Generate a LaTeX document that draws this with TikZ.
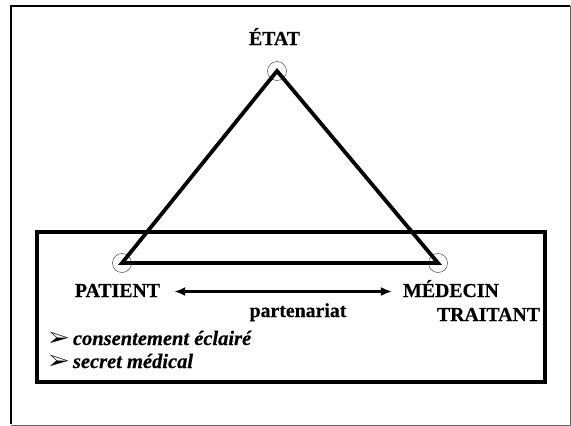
\documentclass[tikz,border=0pt]{standalone}
\usepackage{fontspec}
\setmainfont{Liberation Serif}[BoldFeatures={FakeBold=0.5}, BoldItalicFeatures={FakeBold=0.5}]
\usepackage{pifont}
\usetikzlibrary{arrows.meta}
\begin{document}
\begin{tikzpicture}[x=1pt,y=-1pt,
  label/.style={font=\fontsize{19.8}{22}\selectfont\bfseries, inner sep=0pt, anchor=base},
  item/.style={font=\fontsize{20.5}{23}\selectfont\bfseries\itshape, inner sep=0pt, anchor=base west},
  vertex/.style={circle, draw=black!70, line width=0.5pt, minimum size=19pt, inner sep=0pt},
  side/.style={line width=3.8pt, miter limit=10},
  link/.style={line width=2.6pt, {Latex[length=11pt,width=9pt]}-{Latex[length=11pt,width=9pt]}}
]
\useasboundingbox (0,0) rectangle (571,426);
% outer frame
\draw[line width=2.4pt] (11,424) -- (11,6) -- (570,6);
\draw[black!60, line width=1pt] (570,6) -- (570,425) -- (11,425);
% lower box
\draw[line width=3.8pt] (37,232) rectangle (545,382);
% vertices
\node[vertex] (etat) at (277,71) {};
\node[vertex] (pat) at (122,263) {};
\node[vertex] (med) at (438,263) {};
\draw[side] (etat.center) -- (pat.center) -- (med.center) -- cycle;
% labels
\node[label] (etatlab) at (274.5,45) {ÉTAT};
\node[label, text height=13pt, text depth=2pt] (patlab) at (117.5,297) {PATIENT};
\node[label, text height=13pt, text depth=2pt] (medlab) at (451,297) {MÉDECIN};
\node[label] (traitlab) at (488.5,321) {TRAITANT};
\node[label] (part) at (298,317) {partenariat};
\draw[link, shorten <=14pt, shorten >=11pt] (patlab.east) -- (medlab.west);
% list
\node[item] (it1) at (49,345) {{\fontsize{22}{24}\selectfont\ding{226}}\,consentement éclairé};
\node[item] (it2) at (49,368) {{\fontsize{22}{24}\selectfont\ding{226}}\,secret médical};
\end{tikzpicture}
\end{document}
